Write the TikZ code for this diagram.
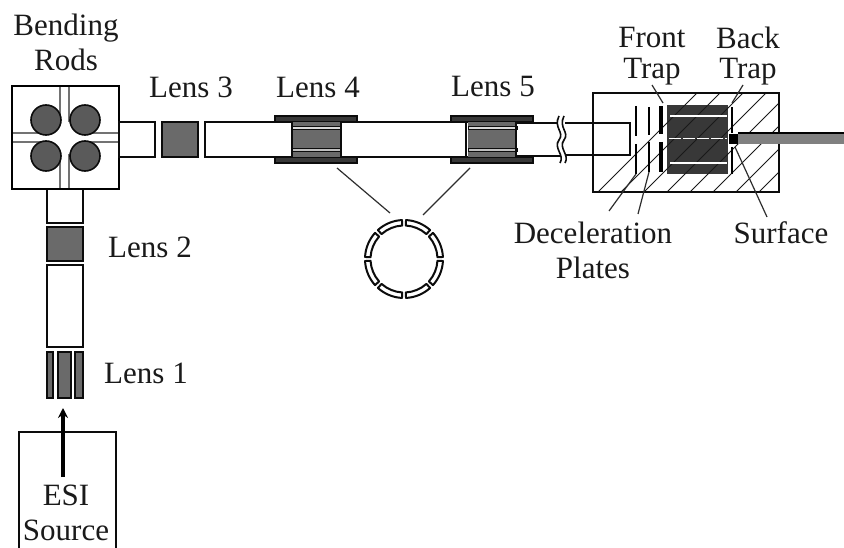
\documentclass[tikz,border=0pt]{standalone}
\usepackage{fontspec}
\setmainfont{Liberation Serif}
\usetikzlibrary{arrows.meta}
\definecolor{lensgray}{HTML}{6A6A6A}
\definecolor{darkblock}{HTML}{383838}
\definecolor{inkc}{HTML}{0C0C0C}
\definecolor{textc}{HTML}{1A1A1A}
\definecolor{leadc}{HTML}{2E2E2E}
\tikzset{
  lbl/.style={text=textc,font=\fontsize{31}{34}\selectfont,inner sep=0pt,align=center},
  tube/.style={draw=inkc,line width=2.4pt,fill=white},
  lensbox/.style={draw=inkc,line width=2.4pt,fill=lensgray},
  rod/.style={draw=inkc,line width=1.6pt,fill=lensgray!85!black},
  leader/.style={draw=leadc,line width=1.2pt},
  hatchline/.style={draw=black!90,line width=1pt},
  plate/.style={draw=black,line width=2pt},
  slit/.style={draw=white,line width=1.6pt},
  seg/.style={draw=inkc,line width=2pt,fill=white,line join=round},
  quadline/.style={draw=black!55,line width=1.2pt}
}
\newcommand{\ringseg}[2]{\draw[seg] (#1:39) arc[start angle=#1,end angle=#2,radius=39] -- (#2:33.5) arc[start angle=#2,end angle=#1,radius=33.5] -- cycle;}
\newcommand{\quadlens}[1]{%
  \fill[lensgray] (#1+17,116) rectangle (#1+66,163);
  \draw[draw=inkc,line width=2pt,fill=darkblock] (#1,116) rectangle (#1+82,122);
  \draw[draw=inkc,line width=2pt,fill=darkblock] (#1,157) rectangle (#1+82,163);
  \fill[lensgray] (#1+17,122) rectangle (#1+66,157);
  \draw[draw=inkc,line width=1pt,fill=white!85!black] (#1+17,127) rectangle (#1+66,130);
  \draw[draw=inkc,line width=1pt,fill=white!75!black] (#1+17,149) rectangle (#1+66,152);
}
\begin{document}
\begin{tikzpicture}[x=1pt,y=-1pt]
\useasboundingbox[fill=white] (0,0) rectangle (844,548);

% ESI source and arrow
\draw[draw=inkc,line width=2.2pt] (19,548) -- (19,432) -- (116,432) -- (116,548);
\coordinate (arrowstart) at (63,477);
\coordinate (arrowend) at (63,408);
\draw[-{Stealth[length=10pt,width=10pt]},line width=3.2pt,draw=black] (arrowstart) -- (arrowend);

% Lens 1
\draw[lensbox,line width=1.8pt] (47,352) rectangle (53,398);
\draw[lensbox,line width=1.8pt] (58,352) rectangle (71,398);
\draw[lensbox,line width=1.8pt] (75,352) rectangle (83,398);
% vertical column
\draw[tube] (47,265) rectangle (83,347);
\draw[lensbox] (47,227) rectangle (83,261);
\draw[tube] (47,189) rectangle (83,223);

% Bending rods
\draw[draw=black,line width=2.6pt,fill=white] (12,86) rectangle (119,189);
\draw[quadline] (60,87) -- (60,188) (69,87) -- (69,188);
\draw[quadline] (13,133) -- (118,133) (13,142) -- (118,142);
\fill[white] (47,122) rectangle (84,154);
\draw[rod] (46,120) circle[radius=15];
\draw[rod] (85,120) circle[radius=15];
\draw[rod] (46,156) circle[radius=15];
\draw[rod] (85,156) circle[radius=15];

% horizontal line
\draw[tube] (119,122) rectangle (155,157);
\draw[lensbox] (162,122) rectangle (198,157);
\quadlens{275}
\quadlens{451}
\draw[tube] (205,122) rectangle (292,157);
\draw[tube] (341,122) rectangle (466,157);

% Trap chamber
\draw[draw=inkc,line width=1.2pt,fill=white] (593,93) rectangle (779,192);
\fill[darkblock] (667,105) rectangle (728,174);
\begin{scope}
  \clip (593,93) rectangle (779,192);
  \foreach \s in {0,...,13}
    \draw[hatchline] (590+\s*23,200) -- ++(115,-115);
\end{scope}
\draw[draw=inkc,line width=1.2pt] (593,93) rectangle (779,192);

% tube to the trap
\draw[draw=inkc,line width=2.4pt] (516,157) -- (516,123) -- (560,123) (516,156) -- (560,156);
\draw[draw=inkc,line width=2.4pt] (565,123) -- (630,123) -- (630,155) -- (565,155);
\fill[white] (559,116) .. controls (553,128) and (565,132) .. (559,140) .. controls (553,148) and (565,155) .. (560,163) -- (565,163) .. controls (570,155) and (558,148) .. (564,140) .. controls (570,132) and (558,128) .. (564,116) -- cycle;
\draw[draw=inkc,line width=1.6pt] (559,116) .. controls (553,128) and (565,132) .. (559,140) .. controls (553,148) and (565,155) .. (560,163);
\draw[draw=inkc,line width=1.6pt] (564,116) .. controls (558,128) and (570,132) .. (564,140) .. controls (558,148) and (570,155) .. (565,163);

% plates
\draw[plate,line width=1.8pt] (636,106) -- (636,136) (636,144) -- (636,174);
\draw[plate,line width=2.8pt] (649,107) -- (649,135) (649,142) -- (649,172);
\draw[plate,line width=3.4pt] (661,106) -- (661,134) (661,142) -- (661,172);
\draw[plate,line width=2.6pt] (732,107) -- (732,133) (732,147) -- (732,174);
\draw[slit] (670,116) -- (727,116) (670,163) -- (727,163);
\draw[slit,dash pattern=on 12pt off 2pt] (655,138.5) -- (727,138.5);

% Surface rod
\fill[black!50] (738,134) rectangle (844,144);
\draw[draw=black,line width=2.8pt] (738,133) -- (844,133);
\fill[black] (729,134) rectangle (738,144);

% Ring
\begin{scope}[shift={(404,259)}]
  \foreach \a in {0,45,...,315} {
    \ringseg{\a+3}{\a+42}
  }
\end{scope}

% Leaders
\coordinate (ringfromL) at (337,168); \coordinate (ringtoL) at (390,213);
\coordinate (ringfromR) at (470,168); \coordinate (ringtoR) at (423,215);
\draw[leader] (ringfromL) -- (ringtoL);
\draw[leader] (ringfromR) -- (ringtoR);
\coordinate (ftA) at (652,85); \coordinate (ftB) at (663,103);
\coordinate (btA) at (743,85); \coordinate (btB) at (732,103);
\coordinate (dpA) at (609,211); \coordinate (dpB) at (636,174);
\coordinate (dpC) at (638,214); \coordinate (dpD) at (649,172);
\coordinate (suA) at (767,217); \coordinate (suB) at (735,147);
\draw[leader] (ftA) -- (ftB);
\draw[leader] (btA) -- (btB);
\draw[leader] (dpA) -- (dpB);
\draw[leader] (dpC) -- (dpD);
\draw[leader] (suA) -- (suB);

% Labels
\node[lbl] (bending) at (66,28) {Bending};
\node[lbl] (rods) at (66,60) {Rods};
\node[lbl] (l3) at (191,87) {Lens 3};
\node[lbl] (l4) at (318,87) {Lens 4};
\node[lbl] (l5) at (493,87) {Lens 5};
\node[lbl] (front) at (652,38) {Front};
\node[lbl] (ftrap) at (652,72) {Trap};
\node[lbl] (back) at (748,38) {Back};
\node[lbl] (btrap) at (748,72) {Trap};
\node[lbl] (decel) at (593,233) {Deceleration};
\node[lbl] (plates) at (593,268) {Plates};
\node[lbl] (surface) at (781,233) {Surface};
\node[lbl] (l2) at (150,247) {Lens 2};
\node[lbl] (l1) at (146,373) {Lens 1};
\node[lbl] (esi) at (66,495) {ESI};
\node[lbl] (source) at (66,530) {Source};
\end{tikzpicture}
\end{document}
